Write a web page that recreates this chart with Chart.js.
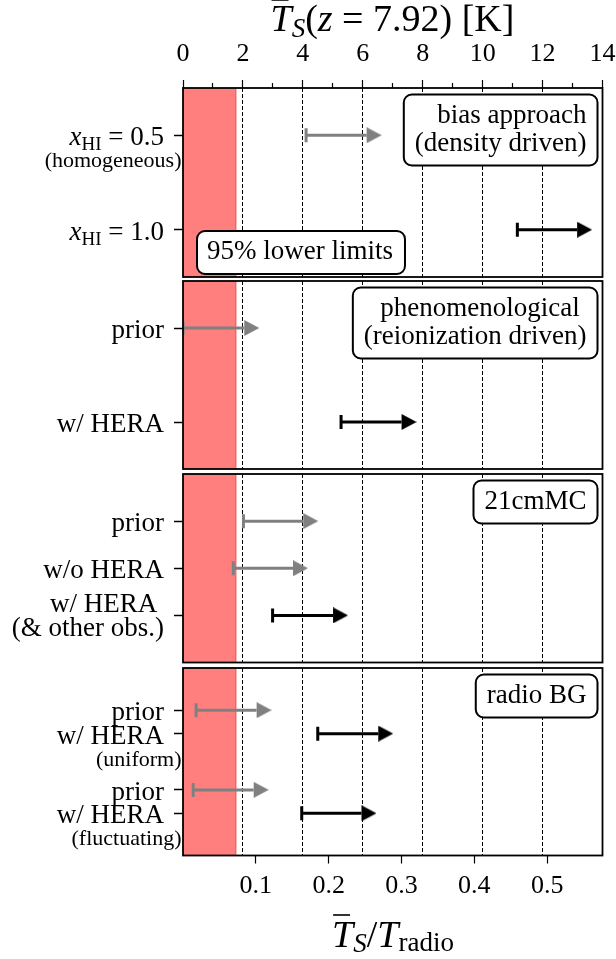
<!DOCTYPE html>
<html>
<head>
<meta charset="utf-8">
<script src="https://cdn.jsdelivr.net/npm/chart.js@4.4.1/dist/chart.umd.min.js"></script>
<style>
  html, body { margin: 0; padding: 0; background: #fff; }
  #fig { position: relative; width: 616px; height: 959px; }
  #fig canvas { position: absolute; left: 0; }
</style>
</head>
<body>
<div id="fig">
  <canvas id="p1" width="616" height="279" style="top:0px"></canvas>
  <canvas id="p2" width="616" height="191" style="top:279px"></canvas>
  <canvas id="p3" width="616" height="194" style="top:470px"></canvas>
  <canvas id="p4" width="616" height="295" style="top:664px"></canvas>
</div>
<script>
// radio background temperature at z = 7.92 (K), links the two x axes
const T_RADIO = 24.31;
const RATIO_MAX = 14 / T_RADIO;
const RED_LIMIT = 0.0728;

const kTicks = [0, 1, 2, 3, 4, 5, 6, 7, 8, 9, 10, 11, 12, 13, 14];
const kLabels = [0, 2, 4, 6, 8, 10, 12, 14];
const kDashed = [2, 4, 6, 8, 10, 12];
const ratioTicks = [0.1, 0.2, 0.3, 0.4, 0.5];

// panel 1: bias approach
const biasRows = [0.5, 1.5];
const biasLabels = ['x_HI = 0.5', 'x_HI = 1.0'];
const biasNotes = ['(homogeneous)', ''];
const biasLower = [0.169, 0.459];
const biasUpper = [0.252, 0.541];
const biasPost = [false, true];
const biasTitle = ['bias approach', '(density driven)'];

// panel 2: phenomenological
const phenoRows = [0.5, 1.5];
const phenoLabels = ['prior', 'w/ HERA'];
const phenoNotes = ['', ''];
const phenoLower = [0.000, 0.217];
const phenoUpper = [0.084, 0.300];
const phenoPost = [false, true];
const phenoTitle = ['phenomenological ', '(reionization driven)'];

// panel 3: 21cmMC
const mcRows = [1, 2, 3];
const mcLabels = ['prior', 'w/o HERA', 'w/ HERA \n(& other obs.)'];
const mcNotes = ['', '', ''];
const mcLower = [0.083, 0.069, 0.123];
const mcUpper = [0.165, 0.151, 0.206];
const mcPost = [false, false, true];
const mcTitle = ['21cmMC'];

// panel 4: radio background
const radioRows = [0.9, 1.4, 2.6, 3.1];
const radioLabels = ['prior', 'w/ HERA', 'prior', 'w/ HERA'];
const radioNotes = ['', '(uniform)', '', '(fluctuating)'];
const radioLower = [0.018, 0.185, 0.014, 0.163];
const radioUpper = [0.101, 0.268, 0.097, 0.245];
const radioPost = [false, true, false, true];
const radioTitle = ['radio BG'];

const SERIF = '"Liberation Serif", "Times New Roman", Times, serif';
const GRAY = '#808080';
const rm = s => `${s}px ${SERIF}`;
const it = s => `italic ${s}px ${SERIF}`;

function arrowHead(color) {
  const c = document.createElement('canvas');
  c.width = 30; c.height = 16;
  const g = c.getContext('2d');
  g.fillStyle = color;
  g.beginPath();
  g.moveTo(15, 0); g.lineTo(30, 8); g.lineTo(15, 16);
  g.closePath(); g.fill();
  return c;
}
const headGray = arrowHead(GRAY);
const headBlack = arrowHead('#000');

function drawRich(ctx, parts, x, y, align) {
  let w = 0;
  parts.forEach(p => { ctx.font = p.font; p.w = ctx.measureText(p.t).width; w += p.w; });
  let cx = align === 'right' ? x - w : align === 'center' ? x - w / 2 : x;
  ctx.textAlign = 'left';
  ctx.textBaseline = 'alphabetic';
  parts.forEach(p => {
    ctx.font = p.font;
    ctx.fillText(p.t, cx, y + (p.dy || 0));
    if (p.over) {
      ctx.lineWidth = 1.6;
      ctx.beginPath();
      ctx.moveTo(cx + 1, y - p.over);
      ctx.lineTo(cx + p.w * 0.85, y - p.over);
      ctx.stroke();
    }
    cx += p.w;
  });
}

function labelParts(text, size) {
  const m = text.match(/^x_(\w+)( = .*)$/);
  if (m) {
    return [{t: 'x', font: it(size)}, {t: m[1], font: rm(Math.round(size * 0.7)), dy: 5}, {t: m[2], font: rm(size)}];
  }
  return [{t: text, font: rm(size)}];
}

function drawBox(ctx, lines, x, y, corner) {
  ctx.font = rm(27);
  const tw = Math.max(...lines.map(l => ctx.measureText(l).width));
  const w = tw + 22, h = 15 + 28 * lines.length;
  const left = corner === 'tr' ? x - w : x;
  const top = corner === 'tr' ? y : y - h;
  ctx.save();
  ctx.beginPath();
  ctx.roundRect(left, top, w, h, 8);
  ctx.fillStyle = '#fff';
  ctx.fill();
  ctx.lineWidth = 2;
  ctx.strokeStyle = '#000';
  ctx.stroke();
  ctx.fillStyle = '#000';
  ctx.textBaseline = 'alphabetic';
  ctx.textAlign = corner === 'tr' ? 'right' : 'left';
  lines.forEach((l, i) => {
    ctx.fillText(l, corner === 'tr' ? left + w - 11 : left + 10, top + 28 + 28 * i);
  });
  ctx.restore();
}

function decor(p) {
  return {
    id: 'decor',
    beforeDatasetsDraw(chart) {
      const {ctx, chartArea: a, scales} = chart;
      const x0 = scales.x.getPixelForValue(0);
      const x1 = scales.x.getPixelForValue(RED_LIMIT);
      ctx.save();
      ctx.fillStyle = 'rgba(255, 0, 0, 0.5)';
      ctx.fillRect(x0, a.top, x1 - x0, a.bottom - a.top);
      ctx.strokeStyle = 'rgba(255, 0, 0, 0.35)';
      ctx.lineWidth = 1.5;
      ctx.beginPath();
      ctx.moveTo(x1, a.top); ctx.lineTo(x1, a.bottom);
      ctx.stroke();
      ctx.restore();
    },
    afterDatasetsDraw(chart) {
      const {ctx, chartArea: a} = chart;
      drawBox(ctx, p.title, a.right - 5, a.top + 6.5, 'tr');
      if (p.limitsBox) drawBox(ctx, ['95% lower limits'], a.left + 14, a.bottom - 3, 'bl');
    },
    afterDraw(chart) {
      const {ctx, chartArea: a, scales} = chart;
      ctx.save();
      ctx.strokeStyle = '#000';
      ctx.lineWidth = 1.8;
      ctx.strokeRect(a.left, a.top, a.right - a.left, a.bottom - a.top);
      ctx.fillStyle = '#000';
      p.labels.forEach((lab, i) => {
        const y = scales.y.getPixelForValue(p.rows[i]);
        const lines = lab.split('\n');
        if (lines.length === 1) {
          drawRich(ctx, labelParts(lines[0], 27), 164, y + 10, 'right');
        } else {
          drawRich(ctx, labelParts(lines[0], 27), 164, y - 3, 'right');
          drawRich(ctx, labelParts(lines[1], 27), 164, y + 21, 'right');
        }
        if (p.notes[i]) drawRich(ctx, [{t: p.notes[i], font: rm(22)}], 181.5, y + 32, 'right');
      });
      if (p.topTitle) {
        drawRich(ctx, [
          {t: 'T', font: it(38), over: 31},
          {t: 'S', font: it(27), dy: 6},
          {t: '(', font: rm(38)},
          {t: 'z', font: it(38)},
          {t: ' = 7.92) [K]', font: rm(38)}
        ], 392.5, 31, 'center');
      }
      if (p.bottomTitle) {
        drawRich(ctx, [
          {t: 'T', font: it(38), over: 32},
          {t: 'S', font: it(27), dy: 5},
          {t: '/', font: rm(38)},
          {t: 'T', font: it(38)},
          {t: 'radio', font: rm(27), dy: 4}
        ], 393, 283, 'center');
      }
      ctx.restore();
    }
  };
}

function makePanel(id, p) {
  const datasets = p.rows.map((y, i) => {
    const col = p.post[i] ? '#000' : GRAY;
    return {
      data: [{x: p.lower[i], y: y}, {x: p.upper[i], y: y}],
      showLine: true,
      borderColor: col,
      borderWidth: 3,
      pointStyle: ['line', p.post[i] ? headBlack : headGray],
      pointRotation: [90, 0],
      pointRadius: [7, 8],
      pointBorderWidth: [3, 0],
      pointBorderColor: col,
      pointBackgroundColor: col
    };
  });

  const noPad = s => { s.paddingLeft = 0; s.paddingRight = 0; s.paddingTop = 0; s.paddingBottom = 0; };

  return new Chart(document.getElementById(id), {
    type: 'scatter',
    data: {datasets},
    options: {
      responsive: false,
      animation: false,
      events: [],
      layout: {autoPadding: false, padding: {left: 0, right: 13.5, top: p.padTop, bottom: p.padBottom}},
      plugins: {legend: {display: false}, tooltip: {enabled: false}},
      scales: {
        x: {
          type: 'linear', position: 'bottom', min: 0, max: RATIO_MAX,
          display: !!p.bottomAxis,
          afterBuildTicks: s => { s.ticks = ratioTicks.map(v => ({value: v})); },
          ticks: {
            callback: v => v.toFixed(1), autoSkip: false, maxRotation: 0,
            color: '#000', font: {family: SERIF, size: 26}, padding: 7
          },
          grid: {drawOnChartArea: false, tickLength: 8, tickColor: '#000', tickWidth: 1.2},
          border: {display: false},
          afterFit: s => { s.height = p.bottomAxis ? 103.5 : 0; noPad(s); }
        },
        k: {
          type: 'linear', position: 'top', min: 0, max: 14,
          afterBuildTicks: s => { s.ticks = kTicks.map(v => ({value: v})); },
          ticks: {
            display: !!p.topAxis,
            callback: v => kLabels.includes(v) ? String(v) : '',
            autoSkip: false, maxRotation: 0,
            color: '#000', font: {family: SERIF, size: 26}, padding: 10
          },
          grid: {
            drawTicks: !!p.topAxis,
            color: c => (c.tick && kDashed.includes(c.tick.value)) ? '#000' : 'rgba(0,0,0,0)',
            lineWidth: 1,
            tickColor: '#000', tickWidth: 1.2, tickLength: 8,
            tickBorderDash: c => (c.tick && kLabels.includes(c.tick.value)) ? [] : [0, 3, 5, 10]
          },
          border: {display: false, dash: [4, 2]},
          afterFit: s => { s.height = p.topAxis ? 88 : 0; noPad(s); }
        },
        y: {
          type: 'linear', reverse: true, min: 0, max: p.yMax,
          afterBuildTicks: s => { s.ticks = p.rows.map(v => ({value: v})); },
          ticks: {display: false},
          grid: {drawOnChartArea: false, tickLength: 9, tickColor: '#000', tickWidth: 1.5},
          border: {display: false},
          afterFit: s => { s.width = 183; noPad(s); }
        }
      }
    },
    plugins: [decor(p)]
  });
}

makePanel('p1', {
  rows: biasRows, labels: biasLabels, notes: biasNotes, lower: biasLower, upper: biasUpper,
  post: biasPost, title: biasTitle, yMax: 2, topAxis: true, topTitle: true, limitsBox: true,
  padTop: 0, padBottom: 2
});
makePanel('p2', {
  rows: phenoRows, labels: phenoLabels, notes: phenoNotes, lower: phenoLower, upper: phenoUpper,
  post: phenoPost, title: phenoTitle, yMax: 2, padTop: 2, padBottom: 1
});
makePanel('p3', {
  rows: mcRows, labels: mcLabels, notes: mcNotes, lower: mcLower, upper: mcUpper,
  post: mcPost, title: mcTitle, yMax: 4, padTop: 4, padBottom: 1.5
});
makePanel('p4', {
  rows: radioRows, labels: radioLabels, notes: radioNotes, lower: radioLower, upper: radioUpper,
  post: radioPost, title: radioTitle, yMax: 4, bottomAxis: true, bottomTitle: true,
  padTop: 4, padBottom: 0
});
</script>
</body>
</html>
